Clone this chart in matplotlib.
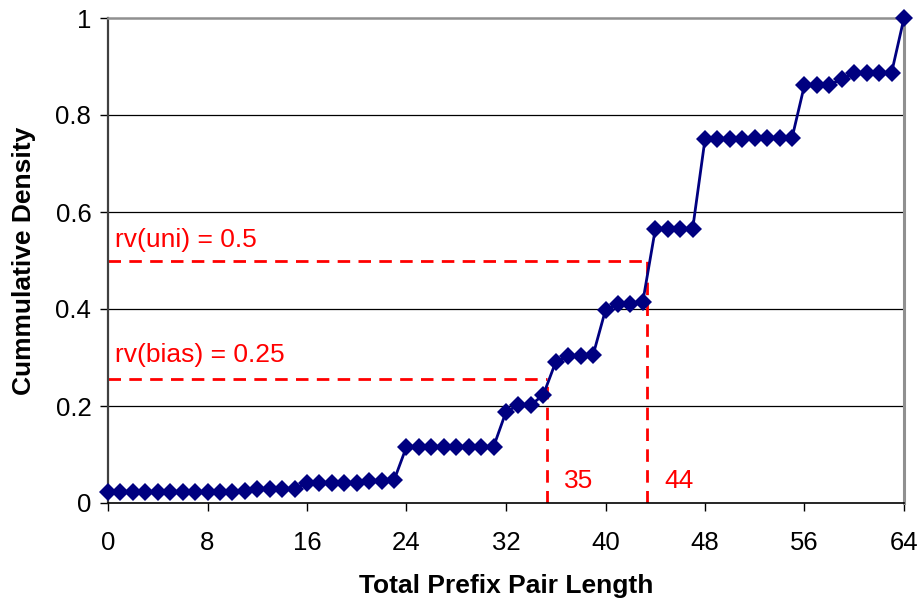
import matplotlib
matplotlib.use("Agg")
import matplotlib.pyplot as plt

plt.rcParams['font.family'] = ['Liberation Sans', 'DejaVu Sans']

prefix_len = list(range(0, 65))
cum_density = [
    0.023, 0.023, 0.023, 0.023, 0.023, 0.023, 0.023, 0.023,
    0.023, 0.023, 0.023, 0.024, 0.029, 0.029, 0.029, 0.029,
    0.042, 0.042, 0.042, 0.042, 0.042, 0.045, 0.045, 0.047,
    0.116, 0.116, 0.116, 0.116, 0.116, 0.116, 0.116, 0.116,
    0.188, 0.202, 0.202, 0.223, 0.291, 0.303, 0.303, 0.305,
    0.398, 0.410, 0.410, 0.415, 0.564, 0.564, 0.564, 0.564,
    0.750, 0.750, 0.750, 0.750, 0.753, 0.753, 0.753, 0.753,
    0.862, 0.862, 0.862, 0.874, 0.887, 0.887, 0.887, 0.887,
    1.000,
]
x_ticks = [0, 8, 16, 24, 32, 40, 48, 56, 64]
y_ticks = [0, 0.2, 0.4, 0.6, 0.8, 1.0]
y_ticklabels = ["0", "0.2", "0.4", "0.6", "0.8", "1"]

rv_uni = 0.5
rv_uni_x = 43.3
rv_bias = 0.255
rv_bias_x = 35.3
label_uni = "rv(uni) = 0.5"
label_bias = "rv(bias) = 0.25"
label_35 = "35"
label_44 = "44"

fig = plt.figure(figsize=(9.19, 6.02), dpi=100)
ax = fig.add_axes([108/919, 99/602, (904-108)/919, (503-18)/602])

ax.set_xlim(0, 64)
ax.set_ylim(0, 1)

for yv in y_ticks[1:-1]:
    ax.axhline(yv, color='black', lw=0.9, zorder=1)

red = '#FF0000'
dash = (0, (4.5, 3.0))
dlw = 2.0
ax.plot([0, rv_uni_x], [rv_uni, rv_uni], color=red, lw=dlw, linestyle=dash, zorder=2)
ax.plot([rv_uni_x, rv_uni_x], [0, rv_uni], color=red, lw=dlw, linestyle=dash, zorder=2)
ax.plot([0, rv_bias_x], [rv_bias, rv_bias], color=red, lw=dlw, linestyle=dash, zorder=2)
ax.plot([rv_bias_x, rv_bias_x], [0, rv_bias], color=red, lw=dlw, linestyle=dash, zorder=2)

ax.plot(prefix_len, cum_density, color='#000080', lw=2.0, marker='D',
        markersize=9.3, markeredgewidth=0, zorder=3, clip_on=False)

ax.text(0.55, 0.528, label_uni, color=red, fontsize=19, va='baseline', ha='left')
ax.text(0.55, 0.29, label_bias, color=red, fontsize=19, va='baseline', ha='left')
ax.text(36.7, 0.031, label_35, color=red, fontsize=19, va='baseline', ha='left')
ax.text(44.7, 0.031, label_44, color=red, fontsize=19, va='baseline', ha='left')

ax.set_xticks(x_ticks)
ax.set_yticks(y_ticks)
ax.set_yticklabels(y_ticklabels)
ax.tick_params(axis='both', direction='out', length=6, width=1, labelsize=18.5)
ax.tick_params(axis='x', pad=14)
ax.tick_params(axis='y', pad=6)

ax.set_xlabel("Total Prefix Pair Length", fontsize=19, fontweight='bold', labelpad=14)
ax.set_ylabel("Cummulative Density", fontsize=19, fontweight='bold', labelpad=14)

ax.spines['left'].set_color('#404040')
ax.spines['left'].set_linewidth(1.6)
ax.spines['bottom'].set_color('black')
ax.spines['bottom'].set_linewidth(1.2)
ax.spines['top'].set_color('#909090')
ax.spines['top'].set_linewidth(1.8)
ax.spines['right'].set_color('#909090')
ax.spines['right'].set_linewidth(2.2)

fig.savefig("out.png", dpi=100)
